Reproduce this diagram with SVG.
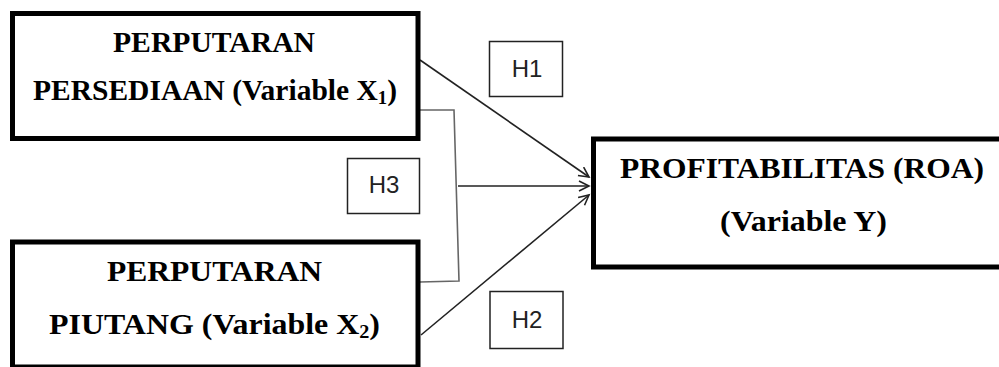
<svg xmlns="http://www.w3.org/2000/svg" width="999" height="367" viewBox="0 0 999 367">
<style>
.node{fill:#fff;stroke:#000;stroke-width:5}
.t{font-family:"Liberation Serif","Times New Roman",serif;font-weight:bold;font-size:30px;fill:#000}
.sub{font-size:19px}
.hbox{fill:#fff;stroke:#222;stroke-width:1.5}
.h{font-family:"Liberation Sans",Arial,sans-serif;font-size:24px;fill:#222;text-anchor:middle}
.line{fill:none;stroke:#222;stroke-width:1.6}
.brk{fill:none;stroke:#666;stroke-width:1.6}
</style>
<defs>
<marker id="arr" markerUnits="userSpaceOnUse" markerWidth="14" markerHeight="14" refX="11" refY="6" orient="auto">
<path d="M1,1 L11,6 L1,11" fill="none" stroke="#222" stroke-width="1.6"/>
</marker>
</defs>
<rect x="0" y="0" width="999" height="367" fill="#fff"/>
<g id="connectors">
<line class="line" x1="420" y1="60" x2="589" y2="177" marker-end="url(#arr)"/>
<line class="line" x1="421" y1="335" x2="589" y2="195" marker-end="url(#arr)"/>
<polyline class="brk" points="420,110 454,110 459,281 420,282"/>
<line class="line" x1="458" y1="186" x2="589" y2="186" marker-end="url(#arr)"/>
</g>
<g id="node-x1">
<rect class="node" x="12.5" y="13.5" width="405.5" height="125"/>
<text class="t" x="113" y="52" textLength="202" lengthAdjust="spacingAndGlyphs">PERPUTARAN</text>
<text class="t" x="33" y="100" textLength="364" lengthAdjust="spacingAndGlyphs">PERSEDIAAN (Variable X<tspan class="sub" dy="4">1</tspan><tspan dy="-4">)</tspan></text>
</g>
<g id="node-x2">
<rect class="node" x="12.5" y="242" width="405.5" height="125"/>
<text class="t" x="107" y="281" textLength="215" lengthAdjust="spacingAndGlyphs">PERPUTARAN</text>
<text class="t" x="49" y="334" textLength="331" lengthAdjust="spacingAndGlyphs">PIUTANG (Variable X<tspan class="sub" dy="4">2</tspan><tspan dy="-4">)</tspan></text>
</g>
<g id="node-y">
<rect class="node" x="593.5" y="139" width="420" height="128"/>
<text class="t" x="620" y="178" textLength="364" lengthAdjust="spacingAndGlyphs">PROFITABILITAS (ROA)</text>
<text class="t" x="720" y="231" textLength="167" lengthAdjust="spacingAndGlyphs">(Variable Y)</text>
</g>
<g id="h1">
<rect class="hbox" x="489.5" y="41.5" width="73" height="55"/>
<text class="h" x="527" y="77">H1</text>
</g>
<g id="h2">
<rect class="hbox" x="490" y="291.5" width="73" height="57"/>
<text class="h" x="527" y="328">H2</text>
</g>
<g id="h3">
<rect class="hbox" x="347.5" y="158.5" width="72" height="55"/>
<text class="h" x="384" y="193">H3</text>
</g>
</svg>
